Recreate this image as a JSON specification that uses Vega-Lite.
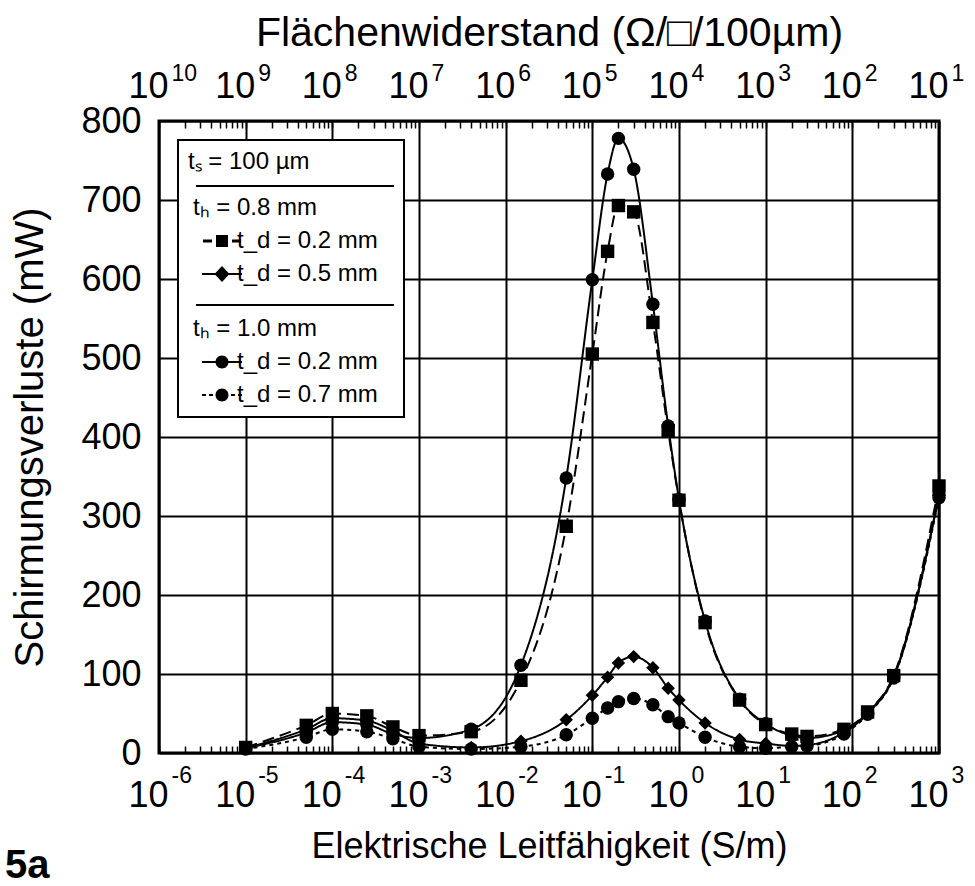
{
  "$schema": "https://vega.github.io/schema/vega-lite/v6.json",
  "width": 780,
  "height": 632,
  "autosize": {"type": "none"},
  "padding": {"left": 159, "top": 121, "right": 36, "bottom": 133},
  "background": "white",
  "config": {
    "view": {"stroke": "black", "strokeWidth": 3},
    "font": "Liberation Sans",
    "legend": {"strokeWidth": 2}
  },
  "title": {
    "text": "5a",
    "orient": "bottom",
    "anchor": "start",
    "frame": "bounds",
    "font": "Liberation Sans",
    "fontSize": 40,
    "fontWeight": "bold",
    "color": "black",
    "offset": -18,
    "dx": -6
  },
  "data": {
    "values": [
      {"s": 1e-5, "k": "a", "P": 7}, {"s": 1e-5, "k": "b", "P": 6}, {"s": 1e-5, "k": "c", "P": 6}, {"s": 1e-5, "k": "d", "P": 5},
      {"s": 5e-5, "k": "a", "P": 35}, {"s": 5e-5, "k": "b", "P": 30}, {"s": 5e-5, "k": "c", "P": 26}, {"s": 5e-5, "k": "d", "P": 20},
      {"s": 1e-4, "k": "a", "P": 50}, {"s": 1e-4, "k": "b", "P": 44}, {"s": 1e-4, "k": "c", "P": 39}, {"s": 1e-4, "k": "d", "P": 30},
      {"s": 2.5e-4, "k": "a", "P": 47}, {"s": 2.5e-4, "k": "b", "P": 41}, {"s": 2.5e-4, "k": "c", "P": 36}, {"s": 2.5e-4, "k": "d", "P": 27},
      {"s": 5e-4, "k": "a", "P": 33}, {"s": 5e-4, "k": "b", "P": 28}, {"s": 5e-4, "k": "c", "P": 24}, {"s": 5e-4, "k": "d", "P": 18},
      {"s": 1e-3, "k": "a", "P": 22}, {"s": 1e-3, "k": "b", "P": 12}, {"s": 1e-3, "k": "c", "P": 19}, {"s": 1e-3, "k": "d", "P": 8},
      {"s": 4e-3, "k": "a", "P": 27}, {"s": 4e-3, "k": "b", "P": 7}, {"s": 4e-3, "k": "c", "P": 30}, {"s": 4e-3, "k": "d", "P": 5},
      {"s": 0.015, "k": "a", "P": 92}, {"s": 0.015, "k": "b", "P": 15}, {"s": 0.015, "k": "c", "P": 111}, {"s": 0.015, "k": "d", "P": 8},
      {"s": 0.05, "k": "a", "P": 287}, {"s": 0.05, "k": "b", "P": 42}, {"s": 0.05, "k": "c", "P": 348}, {"s": 0.05, "k": "d", "P": 23},
      {"s": 0.1, "k": "a", "P": 505}, {"s": 0.1, "k": "b", "P": 73}, {"s": 0.1, "k": "c", "P": 599}, {"s": 0.1, "k": "d", "P": 44},
      {"s": 0.15, "k": "a", "P": 635}, {"s": 0.15, "k": "b", "P": 96}, {"s": 0.15, "k": "c", "P": 733}, {"s": 0.15, "k": "d", "P": 57},
      {"s": 0.2, "k": "a", "P": 693}, {"s": 0.2, "k": "b", "P": 114}, {"s": 0.2, "k": "c", "P": 778}, {"s": 0.2, "k": "d", "P": 65},
      {"s": 0.3, "k": "a", "P": 685}, {"s": 0.3, "k": "b", "P": 122}, {"s": 0.3, "k": "c", "P": 739}, {"s": 0.3, "k": "d", "P": 69},
      {"s": 0.5, "k": "a", "P": 545}, {"s": 0.5, "k": "b", "P": 108}, {"s": 0.5, "k": "c", "P": 568}, {"s": 0.5, "k": "d", "P": 61},
      {"s": 0.75, "k": "a", "P": 408}, {"s": 0.75, "k": "b", "P": 82}, {"s": 0.75, "k": "c", "P": 414}, {"s": 0.75, "k": "d", "P": 46},
      {"s": 1, "k": "a", "P": 320}, {"s": 1, "k": "b", "P": 67}, {"s": 1, "k": "c", "P": 321}, {"s": 1, "k": "d", "P": 38},
      {"s": 2, "k": "a", "P": 165}, {"s": 2, "k": "b", "P": 38}, {"s": 2, "k": "c", "P": 167}, {"s": 2, "k": "d", "P": 20},
      {"s": 5, "k": "a", "P": 67}, {"s": 5, "k": "b", "P": 17}, {"s": 5, "k": "c", "P": 68}, {"s": 5, "k": "d", "P": 8},
      {"s": 10, "k": "a", "P": 36}, {"s": 10, "k": "b", "P": 12}, {"s": 10, "k": "c", "P": 37}, {"s": 10, "k": "d", "P": 6},
      {"s": 20, "k": "a", "P": 24}, {"s": 20, "k": "b", "P": 9}, {"s": 20, "k": "c", "P": 22}, {"s": 20, "k": "d", "P": 8},
      {"s": 30, "k": "a", "P": 21}, {"s": 30, "k": "b", "P": 10}, {"s": 30, "k": "c", "P": 19}, {"s": 30, "k": "d", "P": 9},
      {"s": 80, "k": "a", "P": 30}, {"s": 80, "k": "b", "P": 26}, {"s": 80, "k": "c", "P": 29}, {"s": 80, "k": "d", "P": 24},
      {"s": 150, "k": "a", "P": 52}, {"s": 150, "k": "b", "P": 50}, {"s": 150, "k": "c", "P": 51}, {"s": 150, "k": "d", "P": 49},
      {"s": 300, "k": "a", "P": 98}, {"s": 300, "k": "b", "P": 96}, {"s": 300, "k": "c", "P": 97}, {"s": 300, "k": "d", "P": 95},
      {"s": 1000, "k": "a", "P": 338}, {"s": 1000, "k": "b", "P": 326}, {"s": 1000, "k": "c", "P": 327}, {"s": 1000, "k": "d", "P": 323}
    ]
  },
  "layer": [
    {
      "mark": {"type": "line", "interpolate": "monotone", "color": "black", "strokeWidth": 2},
      "encoding": {
        "x": {
          "field": "s", "type": "quantitative",
          "scale": {"type": "log", "domain": [1e-6, 1000]},
          "axis": {
            "orient": "bottom",
            "values": [1e-6,2e-6,3e-6,4e-6,5e-6,6e-6,7e-6,8e-6,9e-6,1e-5,2e-5,3e-5,4e-5,5e-5,6e-5,7e-5,8e-5,9e-5,1e-4,2e-4,3e-4,4e-4,5e-4,6e-4,7e-4,8e-4,9e-4,1e-3,2e-3,3e-3,4e-3,5e-3,6e-3,7e-3,8e-3,9e-3,0.01,0.02,0.03,0.04,0.05,0.06,0.07,0.08,0.09,0.1,0.2,0.3,0.4,0.5,0.6,0.7,0.8,0.9,1,2,3,4,5,6,7,8,9,10,20,30,40,50,60,70,80,90,100,200,300,400,500,600,700,800,900,1000],
            "labelExpr": "abs(log(datum.value)/LN10 - round(log(datum.value)/LN10)) < 0.001 ? '10' : ''",
            "labelFont": "Liberation Sans", "labelFontSize": 36, "labelColor": "black",
            "labelOverlap": false, "labelBound": false, "labelFlush": false,
            "labelPadding": 32, "labelOffset": -11,
            "domain": false,
            "ticks": true, "tickSize": -7, "tickWidth": 1.5, "tickColor": "black",
            "grid": true, "gridColor": "black", "gridWidth": 2,
            "gridOpacity": {"condition": {"test": "abs(log(datum.value)/LN10 - round(log(datum.value)/LN10)) < 0.001", "value": 1}, "value": 0},
            "title": "Elektrische Leitfähigkeit (S/m)",
            "titleFont": "Liberation Sans", "titleFontSize": 36, "titleFontWeight": "normal", "titleColor": "black",
            "titlePadding": 16
          }
        },
        "y": {
          "field": "P", "type": "quantitative",
          "scale": {"domain": [0, 800], "nice": false},
          "axis": {
            "values": [0,100,200,300,400,500,600,700,800],
            "labelFont": "Liberation Sans", "labelFontSize": 36, "labelColor": "black",
            "labelPadding": 18,
            "domain": false, "ticks": false,
            "grid": true, "gridColor": "black", "gridWidth": 2, "gridOpacity": 1,
            "title": "Schirmungsverluste (mW)",
            "titleFont": "Liberation Sans", "titleFontSize": 40, "titleFontWeight": "normal", "titleColor": "black",
            "titlePadding": 30
          }
        },
        "strokeDash": {
          "field": "k", "type": "nominal",
          "scale": {"domain": ["a", "b", "c", "d"], "range": [[12, 6], [1, 0], [1, 0], [4, 4]]},
          "legend": null
        }
      }
    },
    {
      "mark": {"type": "point", "filled": true, "color": "black", "size": 180, "opacity": 1},
      "encoding": {
        "x": {
          "field": "s", "type": "quantitative",
          "axis": {
            "orient": "top",
            "values": [1e-6,2e-6,3e-6,4e-6,5e-6,6e-6,7e-6,8e-6,9e-6,1e-5,2e-5,3e-5,4e-5,5e-5,6e-5,7e-5,8e-5,9e-5,1e-4,2e-4,3e-4,4e-4,5e-4,6e-4,7e-4,8e-4,9e-4,1e-3,2e-3,3e-3,4e-3,5e-3,6e-3,7e-3,8e-3,9e-3,0.01,0.02,0.03,0.04,0.05,0.06,0.07,0.08,0.09,0.1,0.2,0.3,0.4,0.5,0.6,0.7,0.8,0.9,1,2,3,4,5,6,7,8,9,10,20,30,40,50,60,70,80,90,100,200,300,400,500,600,700,800,900,1000],
            "labelExpr": "abs(log(datum.value)/LN10 - round(log(datum.value)/LN10)) < 0.001 ? '10' : ''",
            "labelFont": "Liberation Sans", "labelFontSize": 36, "labelColor": "black",
            "labelOverlap": false, "labelBound": false, "labelFlush": false,
            "labelPadding": 23, "labelOffset": -11,
            "domain": false,
            "ticks": true, "tickSize": -7, "tickWidth": 1.5, "tickColor": "black",
            "grid": false,
            "title": "Flächenwiderstand (Ω/□/100µm)",
            "titleFont": "Liberation Sans", "titleFontSize": 41, "titleFontWeight": "normal", "titleColor": "black",
            "titlePadding": 14
          }
        },
        "y": {"field": "P", "type": "quantitative"},
        "shape": {
          "field": "k", "type": "nominal",
          "scale": {"domain": ["a", "b", "c", "d"], "range": ["square", "diamond", "circle", "circle"]},
          "legend": null
        }
      }
    },
    {
      "mark": {"type": "point", "opacity": 0},
      "encoding": {
        "x": {
          "field": "s", "type": "quantitative",
          "axis": {
            "orient": "bottom",
            "values": [1e-6,1e-5,1e-4,1e-3,0.01,0.1,1,10,100,1000],
            "labelExpr": "round(log(datum.value)/LN10) < 0 ? '-' + abs(round(log(datum.value)/LN10)) : '' + round(log(datum.value)/LN10)",
            "labelFont": "Liberation Sans", "labelFontSize": 23, "labelColor": "black",
            "labelOverlap": false, "labelBound": false, "labelFlush": false,
            "labelAlign": "left", "labelOffset": 12,
            "labelPadding": 18,
            "domain": false,
            "ticks": true, "tickSize": -7, "tickOpacity": 0,
            "grid": false,
            "title": null
          }
        },
        "y": {"field": "P", "type": "quantitative"}
      }
    },
    {
      "mark": {"type": "point", "opacity": 0},
      "encoding": {
        "x": {
          "field": "s", "type": "quantitative",
          "axis": {
            "orient": "top",
            "values": [1e-6,1e-5,1e-4,1e-3,0.01,0.1,1,10,100,1000],
            "labelExpr": "'' + (4 - round(log(datum.value)/LN10))",
            "labelFont": "Liberation Sans", "labelFontSize": 23, "labelColor": "black",
            "labelOverlap": false, "labelBound": false, "labelFlush": false,
            "labelAlign": "left", "labelOffset": 12,
            "labelPadding": 43,
            "domain": false,
            "ticks": true, "tickSize": -7, "tickOpacity": 0,
            "grid": false,
            "title": null
          }
        },
        "y": {"field": "P", "type": "quantitative"}
      }
    },
    {
      "transform": [{"filter": "false"}],
      "mark": {"type": "point", "filled": true, "color": "black", "size": 16, "opacity": 1},
      "encoding": {
        "shape": {
          "field": "k", "type": "nominal",
          "scale": {
            "domain": ["h1", "a", "b", "h2", "c", "d"],
            "range": [
              "M-2,-11.5H97V-10.5H-2Z",
              "M1.5,-0.75H6V0.75H1.5Z M8,-3H14V3H8Z M16,-0.75H20.5V0.75H16Z",
              "M1,-0.5H21V0.5H1Z M11,-4L14.75,0L11,4L7.25,0Z",
              "M-2,-12.5H97V-11.5H-2Z M0,-17L0,-17",
              "M1,-0.5H21V0.5H1Z M7.75,0A3.25,3.25,0,1,1,14.25,0A3.25,3.25,0,1,1,7.75,0Z",
              "M1,-0.5H3V0.5H1Z M4.5,-0.5H6.5V0.5H4.5Z M7.75,0A3.25,3.25,0,1,1,14.25,0A3.25,3.25,0,1,1,7.75,0Z M15.5,-0.5H17.5V0.5H15.5Z M19,-0.5H21V0.5H19Z"
            ]
          },
          "legend": {
            "title": "tₛ = 100 µm",
            "orient": "top-left",
            "offset": 19,
            "padding": 10,
            "strokeColor": "black",
            "fillColor": "white",
            "titleFont": "Liberation Sans", "titleFontSize": 24, "titleFontWeight": "normal", "titleColor": "black",
            "titlePadding": 22,
            "labelFont": "Liberation Sans", "labelFontSize": 24, "labelColor": "black",
            "labelLimit": 400,
            "labelExpr": "{'h1': 'tₕ = 0.8 mm', 'a': '\u200B\u2003\u2002\u2004t_d = 0.2 mm', 'b': '\u200B\u2003\u2002\u2004t_d = 0.5 mm', 'h2': 'tₕ = 1.0 mm', 'c': '\u200B\u2003\u2002\u2004t_d = 0.2 mm', 'd': '\u200B\u2003\u2002\u2004t_d = 0.7 mm'}[datum.value]",
            "symbolSize": 16,
            "symbolOffset": 0,
            "symbolFillColor": "black",
            "symbolStrokeWidth": 0,
            "symbolOpacity": 1,
            "labelOffset": -19,
            "rowPadding": 9
          }
        }
      }
    }
  ],
  "resolve": {"axis": {"x": "independent"}, "scale": {"shape": "independent"}}
}
